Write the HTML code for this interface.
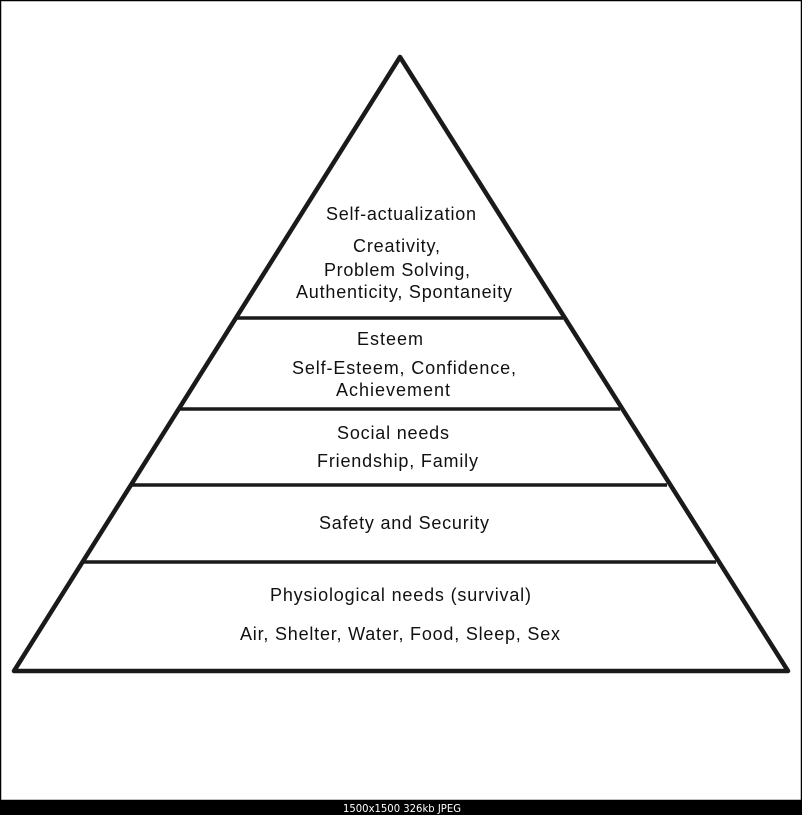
<!DOCTYPE html>
<html><head><style>
html,body{margin:0;padding:0;background:#fff;}
.w{position:relative;width:802px;height:815px;overflow:hidden;}
svg{position:absolute;left:0;top:0;}
</style></head><body><div class="w">
<svg width="802" height="815" viewBox="0 0 802 815" font-family="Liberation Sans, sans-serif" font-size="18" fill="#111">
<rect x="0.5" y="0.5" width="801" height="800" fill="#fff" stroke="#000" stroke-width="1.5"/>
<polygon points="400,57 788,671 14,671" fill="none" stroke="#1a1a1a" stroke-width="4.5" stroke-linejoin="round"/>
<g stroke="#1a1a1a" stroke-width="3.5">
<line x1="235" y1="318" x2="563" y2="318"/>
<line x1="178" y1="409" x2="620" y2="409"/>
<line x1="131" y1="485" x2="667" y2="485"/>
<line x1="83" y1="562" x2="716" y2="562"/>
</g>
<g lengthAdjust="spacingAndGlyphs">
<text x="326" y="220" textLength="150">Self-actualization</text>
<text x="353" y="252" textLength="87">Creativity,</text>
<text x="324" y="276" textLength="146">Problem Solving,</text>
<text x="296" y="298" textLength="216">Authenticity, Spontaneity</text>
<text x="357" y="345" textLength="66">Esteem</text>
<text x="292" y="374" textLength="224">Self-Esteem, Confidence,</text>
<text x="336" y="396" textLength="114">Achievement</text>
<text x="337" y="439" textLength="112">Social needs</text>
<text x="317" y="467" textLength="161">Friendship, Family</text>
<text x="319" y="529" textLength="170">Safety and Security</text>
<text x="270" y="601" textLength="261">Physiological needs (survival)</text>
<text x="240" y="640" textLength="320">Air, Shelter, Water, Food, Sleep, Sex</text>
</g>
<rect x="0" y="801" width="802" height="14" fill="#000"/>
<text x="343" y="812" textLength="118" lengthAdjust="spacingAndGlyphs" fill="#fff" font-family="DejaVu Sans, sans-serif" font-size="10.5">1500x1500 326kb JPEG</text>
</svg>
</div></body></html>
